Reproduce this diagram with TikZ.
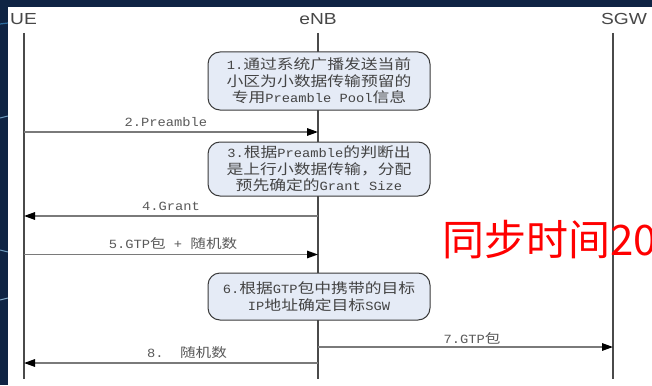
\documentclass[tikz,border=0pt]{standalone}
\usepackage{fontspec}
\usetikzlibrary{arrows.meta}
\newfontfamily\cjkf[FakeStretch=1.2]{Noto Sans CJK SC}
\newfontfamily\hdrf[FakeStretch=1.2]{Liberation Sans}
\newfontfamily\monof[FakeStretch=1.1]{Liberation Mono}
\newfontfamily\redf{Noto Sans CJK SC}
\newcommand\lat[1]{{\monof\fontsize{12.5}{16.5}\selectfont #1}}
\definecolor{bgnavy}{HTML}{0F2444}
\definecolor{streak}{HTML}{2C6C9E}
\definecolor{boxfill}{HTML}{E5EBF6}
\definecolor{boxline}{HTML}{3A3A3A}
\definecolor{lifec}{HTML}{4A4A4A}
\definecolor{msgc}{HTML}{7A7A7A}
\definecolor{txtc}{HTML}{444444}
\definecolor{lblc}{HTML}{5A5A5A}
\begin{document}
\begin{tikzpicture}[x=1pt,y=-1pt,
  hdr/.style={font=\hdrf\fontsize{16}{16}\selectfont, text=black!72, inner sep=0pt},
  life/.style={draw=lifec, line width=1.8pt},
  notebox/.style={draw=boxline, fill=boxfill, line width=1pt, rounded corners=12pt,
    minimum width=222pt, align=center, font=\cjkf\fontsize{14}{16.5}\selectfont,
    text=txtc, inner sep=0pt},
  msg/.style={draw=msgc, line width=1.5pt, -{Triangle[length=11pt,width=7.5pt,color=black]}},
  mlabel/.style={font=\cjkf\fontsize{13}{13}\selectfont, text=lblc, inner sep=0pt}
]
\useasboundingbox (0,0) rectangle (652,385);
% background
\fill[bgnavy] (0,0) rectangle (652,385);
\draw[streak, line width=1.2pt] (0,24) -- (8,23);
\draw[streak!70, line width=1pt] (0,118) -- (8,116);
\draw[streak!70, line width=1pt] (0,250) -- (8,252);
\draw[streak!60, line width=1pt] (0,300) -- (8,298);
\fill[white] (8,7) rectangle (652,385);

% headers
\node[hdr] (ue) at (23.5,19) {UE};
\node[hdr] (enb) at (318,19) {eNB};
\node[hdr] (sgw) at (624,19) {SGW};

% lifelines
\coordinate (ueT) at (24,33);   \coordinate (ueB) at (24,379);
\coordinate (enbT) at (318,33); \coordinate (enbB) at (318,379);
\coordinate (sgwT) at (613,33); \coordinate (sgwB) at (613,379);
\draw[life] (ueT) -- (ueB);
\draw[life] (enbT) -- (enbB);
\draw[life] (sgwT) -- (sgwB);

% note boxes
\node[notebox, minimum height=58pt] (n1) at (319,81)
  {\lat{1.}通过系统广播发送当前\\小区为小数据传输预留的\\专用\lat{Preamble Pool}信息};
\node[notebox, minimum height=54pt] (n3) at (319,169)
  {\lat{3.}根据\lat{Preamble}的判断出\\是上行小数据传输，分配\\预先确定的\lat{Grant Size}};
\node[notebox, minimum height=47pt] (n6) at (319,296.5)
  {\lat{6.}根据\lat{GTP}包中携带的目标\\\lat{IP}地址确定目标\lat{SGW}};

% message endpoints
\coordinate (u2) at (24,132);  \coordinate (e2) at (318,132);
\coordinate (u4) at (24,216);  \coordinate (e4) at (318,216);
\coordinate (u5) at (24,254.5);\coordinate (e5) at (318,254.5);
\coordinate (e7) at (318,347); \coordinate (s7) at (613,347);
\coordinate (u8) at (24,363);  \coordinate (e8) at (318,363);

\draw[msg] (u2) -- (e2);
\draw[msg] (e4) -- (u4);
\draw[msg] (u5) -- (e5);
\draw[msg] (e7) -- (s7);
\draw[msg] (e8) -- (u8);

% message labels
\node[mlabel] (l2) at (166,122) {\lat{2.Preamble}};
\node[mlabel] (l4) at (171,206) {\lat{4.Grant}};
\node[mlabel] (l5) at (173,244) {\lat{5.GTP}包\lat{ + }随机数};
\node[mlabel] (l7) at (472,338) {\lat{7.GTP}包};
\node[mlabel] (l8) at (187,353) {\lat{8.~~}随机数};

% red overlay text
\begin{scope}
\clip (8,7) rectangle (652,385);
\node[anchor=west, text=red, inner sep=0pt, font=\redf\fontsize{42}{42}\selectfont] (sync) at (442,240) {同步时间20};
\end{scope}
\end{tikzpicture}
\end{document}
